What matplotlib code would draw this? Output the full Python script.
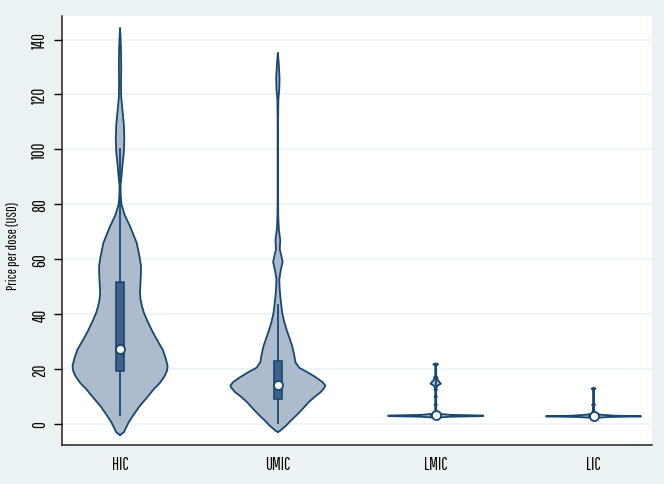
import matplotlib
matplotlib.use("Agg")
import matplotlib.pyplot as plt
from matplotlib.patches import Rectangle

plt.rcParams['font.family'] = ['Pathway Gothic One', 'DejaVu Sans']

groups = ['HIC', 'UMIC', 'LMIC', 'LIC']

# violin outlines: price level and relative half-width (1 = widest)
hic_y = [-4, -3, 0.6, 3.5, 6.7, 9.5, 12.7, 15, 17.5, 19.5, 21.2, 24, 27, 30, 33.4, 37, 40.6, 43, 45.5,
         48, 51.5, 55, 57.6, 61, 66, 72, 76, 80, 83, 86.7, 90, 94, 99, 104, 109, 114.5, 119, 124, 130, 136, 141, 144]
hic_w = [0, 0.08, 0.18, 0.29, 0.42, 0.56, 0.71, 0.84, 0.94, 0.99, 1.0, 0.96, 0.9, 0.8, 0.69, 0.59, 0.5, 0.46, 0.43,
         0.42, 0.43, 0.44, 0.44, 0.41, 0.35, 0.21, 0.1, 0.03, 0.015, 0.01, 0.03, 0.05, 0.08, 0.09, 0.08, 0.05, 0.025, 0.02, 0.025, 0.02, 0.01, 0]

umic_y = [-2.9, -2.4, -0.6, 1.2, 3, 5.5, 8, 10, 11.6, 13, 14, 15.3, 17, 18.9, 20.5, 22.5, 25.5, 28.5, 31.5,
          34.5, 37.5, 40.6, 43.5, 46.7, 50, 52.7, 56, 59, 61.5, 63.6, 67, 71, 76, 82, 110, 118, 122, 126, 131, 135]
umic_w = [0, 0.05, 0.17, 0.27, 0.38, 0.52, 0.65, 0.78, 0.9, 0.97, 1.0, 0.94, 0.8, 0.62, 0.45, 0.37, 0.34, 0.3, 0.24,
          0.18, 0.13, 0.09, 0.07, 0.05, 0.035, 0.03, 0.06, 0.1, 0.07, 0.04, 0.05, 0.02, 0.008, 0.005, 0.005, 0.01, 0.03, 0.035, 0.02, 0]

lmic_y = [2.3, 2.65, 2.9, 3.1, 3.35, 3.8, 5.2, 6.5, 7, 7.5, 9.5, 10, 10.5, 12, 12.5, 13, 14, 14.7,
          15.3, 16, 16.5, 17, 17.5, 21.2, 21.8, 22]
lmic_w = [0, 0.3, 1.0, 1.0, 0.3, 0.03, 0.01, 0.01, 0.025, 0.01, 0.01, 0.025, 0.01, 0.01, 0.025, 0.01, 0.04, 0.11,
          0.08, 0.045, 0.03, 0.035, 0.01, 0.01, 0.05, 0]

lic_y = [2.2, 2.55, 2.8, 3.05, 3.4, 3.8, 6.5, 7, 7.5, 12.4, 12.9, 13.1]
lic_w = [0, 0.3, 1.0, 0.45, 0.15, 0.02, 0.01, 0.03, 0.01, 0.01, 0.04, 0]

# box plot statistics
q1 = [19.3, 9.1, 2.8, 2.6]
median = [27.3, 14.4, 3.3, 2.9]
q3 = [51.7, 22.9, 3.8, 3.2]
whisker_lo = [3.4, 0.4, 2.0, 2.0]
whisker_hi = [100, 43.3, 22, 13]

profiles = [(hic_y, hic_w), (umic_y, umic_w), (lmic_y, lmic_w), (lic_y, lic_w)]

bg = '#eaf2f3'
edge = '#1a476f'
fill = '#adbccc'
boxfill = '#3e6288'

fig = plt.figure(figsize=(6.64, 4.85), dpi=100, facecolor=bg)
ax = fig.add_axes([0.0938, 0.080, 0.888, 0.884])
ax.set_facecolor('white')

half = 0.301
for i, (yy, ww) in enumerate(profiles):
    pos = i + 1
    left = [pos - w * half for w in ww]
    right = [pos + w * half for w in ww]
    ax.fill_betweenx(yy, left, right, facecolor=fill, edgecolor='none', zorder=2)
    ax.plot(left, yy, color=edge, lw=1.3, zorder=3, solid_joinstyle='round')
    ax.plot(right, yy, color=edge, lw=1.3, zorder=3, solid_joinstyle='round')
    ax.plot([pos, pos], [whisker_lo[i], whisker_hi[i]], color=edge, lw=1.3, zorder=4)
    bw = 0.027
    ax.add_patch(Rectangle((pos - bw, q1[i]), 2 * bw, q3[i] - q1[i], facecolor=boxfill,
                           edgecolor=edge, lw=1.2, zorder=5))
    ax.plot(pos, median[i], 'o', ms=6.5, mfc='white', mec=edge, mew=1.3, zorder=6)

ax.set_xlim(0.634, 4.37)
ax.set_ylim(-7.7, 148.4)
ax.set_xticks(range(1, 5))
ax.set_xticklabels(groups, fontsize=12)
ax.tick_params(axis='x', length=0, pad=8)
ax.set_yticks(range(0, 141, 20))
ax.set_yticklabels([str(v) for v in range(0, 141, 20)], rotation=90, va='center', fontsize=12)
ax.tick_params(axis='y', length=6, width=1, pad=4)
ax.yaxis.grid(True, color=bg, lw=1.1, zorder=0)
ax.set_axisbelow(True)
ax.set_ylabel('Price per dose (USD)', fontsize=10.2)
ax.yaxis.set_label_coords(-0.072, 0.467)

for s in ['top', 'right']:
    ax.spines[s].set_visible(False)
for s in ['left', 'bottom']:
    ax.spines[s].set_color('#222222')
    ax.spines[s].set_linewidth(1.1)

fig.savefig('out.png', dpi=100, facecolor=bg)
